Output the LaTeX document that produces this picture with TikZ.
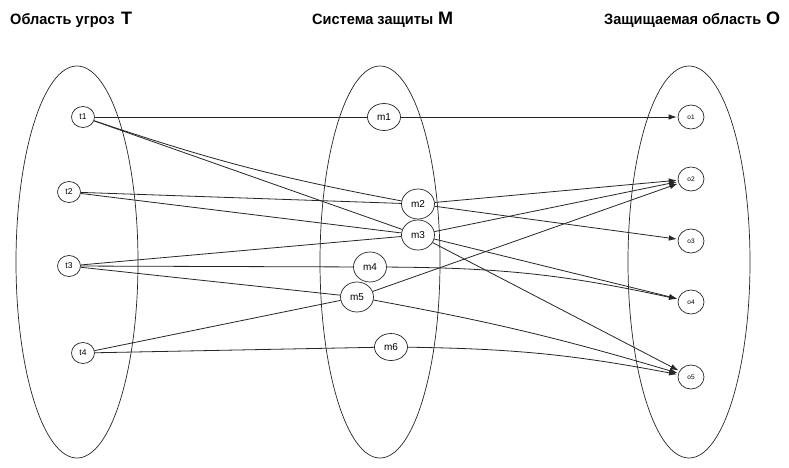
\documentclass[tikz,border=0pt]{standalone}
\usepackage{fontspec}
\setmainfont{Liberation Sans}
\newfontfamily\ttlfont[FakeStretch=0.97]{Liberation Sans}
\usetikzlibrary{shapes.geometric,arrows.meta}
\begin{document}
\begin{tikzpicture}[x=1pt,y=-1pt,
  tn/.style={ellipse, draw=black!85, line width=0.7pt, minimum width=23pt, minimum height=21pt, inner sep=0pt, font=\fontsize{8.5}{8.5}\selectfont},
  mn/.style={ellipse, draw=black!85, line width=0.7pt, minimum width=33pt, minimum height=30pt, inner sep=0pt, font=\fontsize{10}{10}\selectfont},
  on/.style={ellipse, draw=black!85, line width=0.7pt, minimum width=26pt, minimum height=24pt, inner sep=0pt, font=\fontsize{6.5}{6.5}\selectfont},
  area/.style={draw=black!85, line width=0.7pt},
  ln/.style={draw=black!85, line width=0.8pt},
  ar/.style={ln, -{Latex[length=8pt,width=5.5pt]}, shorten >=1pt},
  ttl/.style={anchor=base west, inner sep=0pt, font=\ttlfont\fontsize{15}{15}\selectfont\bfseries},
  big/.style={anchor=base west, inner sep=0pt, font=\fontsize{18}{18}\selectfont\bfseries}
]
\useasboundingbox (0,0) rectangle (789,468);
\fill[white] (0,0) rectangle (789,468);

% titles
\node[ttl] (h1) at (10,24.5) {Область угроз};
\node[big] (h1b) at (121,24.5) {T};
\node[ttl] (h2) at (312,24.5) {Система защиты};
\node[big] (h2b) at (438,24.5) {M};
\node[ttl] (h3) at (604,24.5) {Защищаемая область};
\node[big] (h3b) at (766,24.5) {O};

% areas
\draw[area] (77,262) ellipse [x radius=61pt, y radius=196pt];
\draw[area] (380,262) ellipse [x radius=60pt, y radius=196pt];
\draw[area] (689,262) ellipse [x radius=61pt, y radius=196pt];

% threat nodes
\node[tn] (t1) at (83,117) {t1};
\node[tn] (t2) at (69,192) {t2};
\node[tn] (t3) at (69,266) {t3};
\node[tn] (t4) at (83,353) {t4};

% protection nodes
\node[mn, minimum height=27pt] (m1) at (384,117) {m1};
\node[mn] (m2) at (418,204) {m2};
\node[mn] (m3) at (418,235) {m3};
\node[mn] (m4) at (370,267) {m4};
\node[mn] (m5) at (357,297) {m5};
\node[mn, minimum height=27pt] (m6) at (391,347) {m6};

% object nodes
\node[on] (o1) at (691,117) {o1};
\node[on] (o2) at (691,179) {o2};
\node[on] (o3) at (691,241) {o3};
\node[on] (o4) at (691,302) {o4};
\node[on] (o5) at (691,377) {o5};

% threats -> protection
\draw[ln] (t1) -- (m1);
\draw[ln] (t1) to[bend right=4] (m2);
\draw[ln] (t1) -- (m3);
\draw[ln] (t2) -- (m2);
\draw[ln] (t2) -- (m3);
\draw[ln] (t3) -- (m3);
\draw[ln] (t3) -- (m4);
\draw[ln] (t3) -- (m5);
\draw[ln] (t4) -- (m5);
\draw[ln] (t4) -- (m6);

% protection -> objects
\draw[ar] (m1) -- (o1);
\draw[ar] (m2) -- (o2);
\draw[ar] (m2) -- (o3);
\draw[ar] (m3) -- (o2);
\draw[ar] (m3) -- (o4);
\draw[ar] (m3) -- (o5);
\draw[ar] (m4) to[bend left=6] (o4);
\draw[ar] (m5) -- (o2);
\draw[ar] (m5) to[bend left=3] (o5);
\draw[ar] (m6) to[bend left=5] (o5);
\end{tikzpicture}
\end{document}
